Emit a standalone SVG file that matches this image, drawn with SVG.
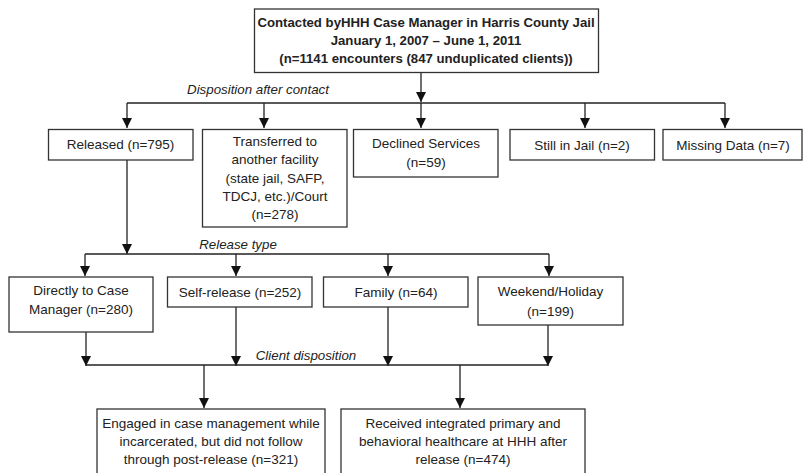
<svg xmlns="http://www.w3.org/2000/svg" width="803" height="473" viewBox="0 0 803 473">
<style>
.box{fill:#fff;stroke:#333;stroke-width:1.3}
.t{font-family:"Liberation Sans",Arial,sans-serif;font-size:13.5px;fill:#222;text-anchor:middle}
.b{font-weight:bold;font-size:13.2px}
.lbl{font-family:"Liberation Sans",Arial,sans-serif;font-size:13.3px;font-style:italic;fill:#222;text-anchor:middle}
.ln{fill:none;stroke:#222;stroke-width:1.3}
.ar{fill:none;stroke:#222;stroke-width:1.3;marker-end:url(#ah)}
</style>
<defs>
<marker id="ah" markerUnits="userSpaceOnUse" markerWidth="10" markerHeight="10" refX="10" refY="5" orient="auto" viewBox="0 0 10 10">
<path d="M0,0 L10,5 L0,10 Z" fill="#111"/>
</marker>
</defs>
<rect width="803" height="473" fill="#fff"/>
<g id="connectors">
<line class="ar" x1="421" y1="72" x2="421" y2="102"/>
<line class="ln" x1="127" y1="103" x2="725" y2="103"/>
<line class="ar" x1="127" y1="103" x2="127" y2="128"/>
<line class="ar" x1="264" y1="103" x2="264" y2="128"/>
<line class="ar" x1="421" y1="103" x2="421" y2="128"/>
<line class="ar" x1="585" y1="103" x2="585" y2="128"/>
<line class="ar" x1="725" y1="103" x2="725" y2="128"/>
<line class="ar" x1="127" y1="160" x2="127" y2="254"/>
<line class="ln" x1="85" y1="254" x2="549" y2="254"/>
<line class="ar" x1="85" y1="254" x2="85" y2="276"/>
<line class="ar" x1="236" y1="254" x2="236" y2="276"/>
<line class="ar" x1="388" y1="254" x2="388" y2="276"/>
<line class="ar" x1="549" y1="254" x2="549" y2="276"/>
<line class="ar" x1="86" y1="332" x2="86" y2="366"/>
<line class="ar" x1="236" y1="307" x2="236" y2="366"/>
<line class="ar" x1="388" y1="307" x2="388" y2="366"/>
<line class="ar" x1="548" y1="325" x2="548" y2="366"/>
<line class="ln" x1="86" y1="365" x2="548" y2="365"/>
<line class="ar" x1="204" y1="365" x2="204" y2="408"/>
<line class="ar" x1="460" y1="365" x2="460" y2="408"/>
<text class="lbl" x="258" y="93.5">Disposition after contact</text>
<text class="lbl" x="238" y="248.5">Release type</text>
<text class="lbl" x="306" y="359.5">Client disposition</text>
</g>
<g id="n-top">
<rect class="box" x="254.5" y="9" width="344" height="63.5"/>
<text class="t b" x="426" y="26.5">Contacted byHHH Case Manager in Harris County Jail</text>
<text class="t b" x="426" y="44.5">January 1, 2007 – June 1, 2011</text>
<text class="t b" x="426" y="62.5">(n=1141 encounters (847 unduplicated clients))</text>
</g>
<g id="n-released">
<rect class="box" x="48.5" y="129.5" width="144.5" height="30.5"/>
<text class="t" x="120.5" y="149">Released (n=795)</text>
</g>
<g id="n-transferred">
<rect class="box" x="202.5" y="129.5" width="144.5" height="97.5"/>
<text class="t" x="275" y="146">Transferred to</text>
<text class="t" x="275" y="164.3">another facility</text>
<text class="t" x="275" y="182.6">(state jail, SAFP,</text>
<text class="t" x="275" y="200.9">TDCJ, etc.)/Court</text>
<text class="t" x="275" y="219.2">(n=278)</text>
</g>
<g id="n-declined">
<rect class="box" x="353.5" y="129.5" width="144.5" height="47.5"/>
<text class="t" x="426" y="148">Declined Services</text>
<text class="t" x="426" y="166.5">(n=59)</text>
</g>
<g id="n-still">
<rect class="box" x="510" y="129.5" width="144.5" height="30.5"/>
<text class="t" x="582" y="149.5">Still in Jail (n=2)</text>
</g>
<g id="n-missing">
<rect class="box" x="663" y="129.5" width="139" height="30.5"/>
<text class="t" x="733" y="149.5">Missing Data (n=7)</text>
</g>
<g id="n-direct">
<rect class="box" x="9" y="277" width="144" height="55"/>
<text class="t" x="81" y="294.5">Directly to Case</text>
<text class="t" x="81" y="313.5">Manager (n=280)</text>
</g>
<g id="n-self">
<rect class="box" x="167.5" y="277" width="144.5" height="30"/>
<text class="t" x="240" y="297">Self-release (n=252)</text>
</g>
<g id="n-family">
<rect class="box" x="323.5" y="277" width="144.5" height="30"/>
<text class="t" x="396" y="297">Family (n=64)</text>
</g>
<g id="n-weekend">
<rect class="box" x="478" y="277" width="145" height="48"/>
<text class="t" x="550.5" y="295.5">Weekend/Holiday</text>
<text class="t" x="550.5" y="315.5">(n=199)</text>
</g>
<g id="n-engaged">
<rect class="box" x="97" y="409" width="228" height="70"/>
<text class="t" x="211" y="427.5">Engaged in case management while</text>
<text class="t" x="211" y="445.5">incarcerated, but did not follow</text>
<text class="t" x="211" y="463.5">through post-release (n=321)</text>
</g>
<g id="n-received">
<rect class="box" x="341" y="409" width="244" height="70"/>
<text class="t" x="463" y="427.5">Received integrated primary and</text>
<text class="t" x="463" y="445.5">behavioral healthcare at HHH after</text>
<text class="t" x="463" y="463.5">release (n=474)</text>
</g>
</svg>
